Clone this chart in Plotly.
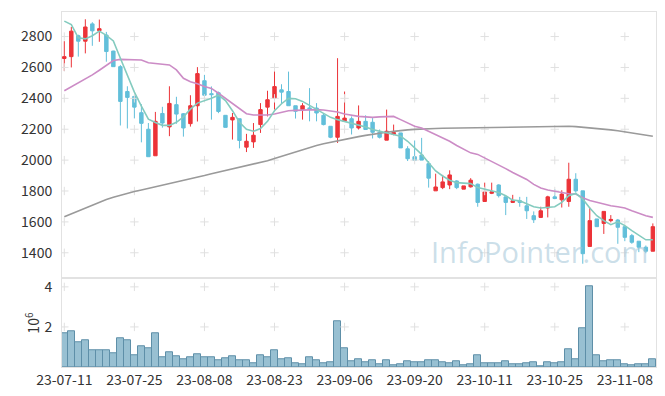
import plotly.graph_objects as go

dates = ["23-07-11","23-07-12","23-07-13","23-07-14","23-07-17","23-07-18","23-07-19","23-07-20","23-07-21","23-07-24",
"23-07-25","23-07-26","23-07-27","23-07-28","23-07-31","23-08-01","23-08-02","23-08-03","23-08-04","23-08-07",
"23-08-08","23-08-09","23-08-10","23-08-11","23-08-14","23-08-16","23-08-17","23-08-18","23-08-21","23-08-22",
"23-08-23","23-08-24","23-08-25","23-08-28","23-08-29","23-08-30","23-08-31","23-09-01","23-09-04","23-09-05",
"23-09-06","23-09-07","23-09-08","23-09-11","23-09-12","23-09-13","23-09-14","23-09-15","23-09-18","23-09-19",
"23-09-20","23-09-21","23-09-22","23-09-25","23-09-26","23-09-27","23-10-04","23-10-05","23-10-06","23-10-10",
"23-10-11","23-10-12","23-10-13","23-10-16","23-10-17","23-10-18","23-10-19","23-10-20","23-10-23","23-10-24",
"23-10-25","23-10-26","23-10-27","23-10-30","23-10-31","23-11-01","23-11-02","23-11-03","23-11-06","23-11-07",
"23-11-08","23-11-09","23-11-10","23-11-13","23-11-14"]

open_ = [2658,2670,2805,2770,2882,2838,2810,2706,2605,2444,2412,2307,2200,2028,2302,2215,2359,2300,2236,2352,
2514,2430,2436,2290,2260,2268,2084,2118,2230,2343,2401,2455,2444,2352,2327,2338,2337,2290,2219,2148,
2251,2268,2208,2251,2245,2180,2129,2166,2176,2073,2022,2033,1977,1801,1822,1839,1865,1812,1827,1844,
1732,1785,1839,1762,1726,1737,1704,1640,1629,1690,1762,1743,1732,1876,1801,1441,1619,1590,1608,1612,
1569,1511,1475,1436,1410]
high = [2770,2862,2812,2912,2893,2910,2830,2708,2615,2478,2418,2362,2240,2312,2345,2478,2410,2305,2420,2602,
2552,2477,2444,2290,2305,2268,2170,2240,2369,2449,2610,2491,2573,2352,2369,2466,2369,2305,2219,2660,
2444,2283,2354,2290,2272,2198,2327,2230,2176,2090,2127,2144,1994,1912,1904,1934,1870,1833,1883,1848,
1854,1854,1844,1762,1775,1762,1762,1668,1698,1769,1812,1805,1983,1915,1801,1693,1619,1668,1644,1619,
1569,1522,1475,1447,1590]
low = [2577,2600,2670,2691,2740,2766,2637,2605,2224,2205,2270,2115,2022,2028,2210,2155,2235,2152,2217,2250,
2391,2262,2304,2212,2133,2076,2052,2079,2176,2283,2327,2369,2352,2269,2262,2251,2251,2225,2142,2111,
2251,2166,2198,2198,2140,2140,2129,2161,2079,1994,1994,2000,1822,1801,1812,1812,1812,1812,1822,1698,
1732,1780,1758,1644,1722,1698,1619,1593,1625,1629,1747,1693,1698,1790,1329,1441,1569,1522,1597,1458,
1475,1458,1404,1397,1410]
close = [2670,2835,2770,2862,2837,2851,2703,2605,2380,2406,2343,2238,2022,2251,2240,2367,2298,2208,2352,2560,
2420,2424,2315,2212,2277,2127,2122,2161,2327,2391,2476,2440,2352,2316,2352,2333,2305,2230,2148,2283,
2272,2208,2251,2198,2180,2148,2187,2179,2079,2009,1998,2000,1883,1826,1859,1904,1822,1833,1870,1726,
1794,1795,1770,1726,1737,1726,1672,1614,1672,1762,1751,1780,1876,1801,1394,1608,1569,1668,1616,1565,
1500,1468,1436,1410,1569]

ma5 = [2900,2877,2792,2785,2805,2835,2808,2772,2660,2550,2440,2350,2265,2244,2225,2225,2245,2280,2330,2369,
2384,2401,2420,2385,2320,2245,2200,2187,2204,2251,2320,2365,2400,2397,2380,2354,2327,2305,2277,2262,
2250,2240,2228,2215,2198,2187,2172,2166,2155,2122,2079,2037,1983,1930,1897,1870,1854,1850,1848,1822,
1812,1801,1790,1769,1741,1737,1715,1698,1690,1693,1698,1726,1769,1784,1748,1690,1640,1608,1582,1600,
1576,1543,1511,1484,1484]
ma20 = [2449,2475,2498,2525,2552,2582,2611,2645,2652,2650,2648,2648,2630,2626,2622,2616,2584,2530,2508,2495,
2476,2464,2433,2401,2369,2337,2300,2292,2292,2292,2298,2311,2320,2322,2324,2327,2327,2324,2316,2311,
2298,2290,2283,2280,2277,2280,2283,2283,2262,2240,2219,2208,2187,2166,2144,2122,2095,2069,2047,2037,
2015,1994,1968,1945,1920,1898,1875,1843,1819,1806,1797,1788,1782,1781,1756,1739,1726,1715,1704,1698,
1690,1672,1655,1640,1629]
ma_long = [1633,1652,1672,1692,1712,1730,1745,1760,1773,1786,1797,1807,1817,1827,1837,1847,1857,1866,1876,1890,
1900,1912,1922,1932,1942,1952,1963,1973,1983,1996,2010,2025,2040,2055,2070,2083,2095,2106,2116,2125,
2135,2144,2152,2160,2168,2175,2180,2186,2192,2196,2199,2202,2204,2205,2206,2207,2208,2208,2209,2210,
2211,2212,2213,2214,2215,2216,2216,2217,2217,2218,2218,2219,2219,2217,2213,2210,2207,2202,2196,2190,
2183,2176,2170,2163,2155]
volume = [1.69,1.77,1.24,1.34,0.84,0.84,0.84,0.69,1.44,1.34,0.60,1.04,0.94,1.69,0.50,0.74,0.55,0.40,0.50,0.65,
0.50,0.50,0.35,0.45,0.55,0.35,0.35,0.20,0.60,0.50,0.84,0.40,0.45,0.20,0.15,0.50,0.35,0.20,0.25,2.28,
0.94,0.30,0.40,0.25,0.35,0.15,0.35,0.10,0.15,0.30,0.25,0.25,0.35,0.35,0.25,0.20,0.30,0.10,0.15,0.60,
0.20,0.20,0.20,0.30,0.15,0.15,0.20,0.25,0.05,0.25,0.20,0.25,0.89,0.40,1.95,4.02,0.60,0.30,0.35,0.35,
0.15,0.10,0.15,0.15,0.40]  # millions

price_ticks = [1400, 1600, 1800, 2000, 2200, 2400, 2600, 2800]
vol_ticks = [2, 4]
xtick_idx = list(range(0, 85, 10))
xtick_labels = [dates[k] for k in xtick_idx]

FONT = "Noto Sans CJK KR, Noto Sans, sans-serif"
RED = "#ec3338"
BLUE = "#62bfda"
GRIDC = "#e0e0e0"
TXT = "#333333"

fig = go.Figure()

# grid crosses (price panel)
gx, gy = [], []
for t in xtick_labels:
    for p in price_ticks:
        gx.append(t); gy.append(p)
fig.add_trace(go.Scatter(x=gx, y=gy, mode="markers", xaxis="x", yaxis="y",
                         marker=dict(symbol="cross-thin", size=6, line=dict(color=GRIDC, width=1)),
                         hoverinfo="skip", showlegend=False))
# grid crosses (volume panel)
vx, vy = [], []
for t in xtick_labels:
    for v in vol_ticks:
        vx.append(t); vy.append(v * 1e6)
fig.add_trace(go.Scatter(x=vx, y=vy, mode="markers", xaxis="x2", yaxis="y2",
                         marker=dict(symbol="cross-thin", size=6, line=dict(color=GRIDC, width=1)),
                         hoverinfo="skip", showlegend=False))

fig.add_trace(go.Scatter(x=dates, y=ma_long, mode="lines", xaxis="x", yaxis="y",
                         line=dict(color="#9a9a9a", width=1.6), showlegend=False, hoverinfo="skip"))
fig.add_trace(go.Scatter(x=dates, y=ma20, mode="lines", xaxis="x", yaxis="y",
                         line=dict(color="#cc8cc6", width=1.6), showlegend=False, hoverinfo="skip"))

fig.add_trace(go.Candlestick(x=dates, open=open_, high=high, low=low, close=close,
                             xaxis="x", yaxis="y", whiskerwidth=0,
                             increasing=dict(line=dict(color=RED, width=1), fillcolor=RED),
                             decreasing=dict(line=dict(color=BLUE, width=1), fillcolor=BLUE),
                             showlegend=False))

fig.add_trace(go.Scatter(x=dates, y=ma5, mode="lines", xaxis="x", yaxis="y",
                         line=dict(color="#84cbbf", width=1.6), showlegend=False, hoverinfo="skip"))

fig.add_trace(go.Bar(x=dates, y=[v * 1e6 for v in volume], xaxis="x2", yaxis="y2",
                     marker=dict(color="#98c0d2", line=dict(color="#5e8fa8", width=1)),
                     showlegend=False))

axis_common = dict(type="category", categoryorder="array", categoryarray=dates,
                   range=[-0.33, 84.45], showgrid=False, zeroline=False,
                   showline=True, linecolor="#e2e2e2", linewidth=1, mirror=True,
                   tickmode="array", tickvals=xtick_labels, ticktext=xtick_labels, tickangle=0)

# the page body adds an 8px offset; figure is sized to fill the rest of the window
fig.update_layout(
    width=657, height=388,
    margin=dict(l=54, r=9, t=2, b=29),
    paper_bgcolor="white", plot_bgcolor="white",
    font=dict(family=FONT, size=14, color=TXT),
    bargap=0,
    showlegend=False,
    xaxis=dict(axis_common, domain=[0, 1], anchor="y", showticklabels=False, rangeslider=dict(visible=False),
               ticks=""),
    xaxis2=dict(axis_common, domain=[0, 1], anchor="y2", matches="x", showticklabels=True, ticks="",
                tickfont=dict(size=14, color=TXT)),
    yaxis=dict(domain=[0.25, 1], range=[1235, 2959], tickvals=price_ticks, showgrid=False, zeroline=False,
               showline=True, linecolor="#e2e2e2", mirror=True, ticks="", ticklabelstandoff=6,
               tickfont=dict(size=14, color=TXT)),
    yaxis2=dict(domain=[0, 0.25], range=[0, 4.43e6], tickvals=[v * 1e6 for v in vol_ticks],
                ticktext=[str(v) for v in vol_ticks], showgrid=False, zeroline=False,
                showline=True, linecolor="#e2e2e2", mirror=True, ticks="", ticklabelstandoff=6,
                tickfont=dict(size=14, color=TXT)),
    annotations=[
        dict(text="10<sup>6</sup>", xref="paper", yref="y2 domain", x=0, y=0.5, xshift=-29,
             xanchor="center", yanchor="middle", textangle=-90, showarrow=False,
             font=dict(size=14, color=TXT)),
        dict(text="InfoPointer.com", xref="paper", yref="paper", x=1, y=0.3255, xshift=-6,
             xanchor="right", yanchor="middle", showarrow=False,
             font=dict(family="Open Sans, Noto Sans, sans-serif", size=29, color="rgba(160,196,214,0.55)")),
    ],
)

fig.write_html("out.html")
